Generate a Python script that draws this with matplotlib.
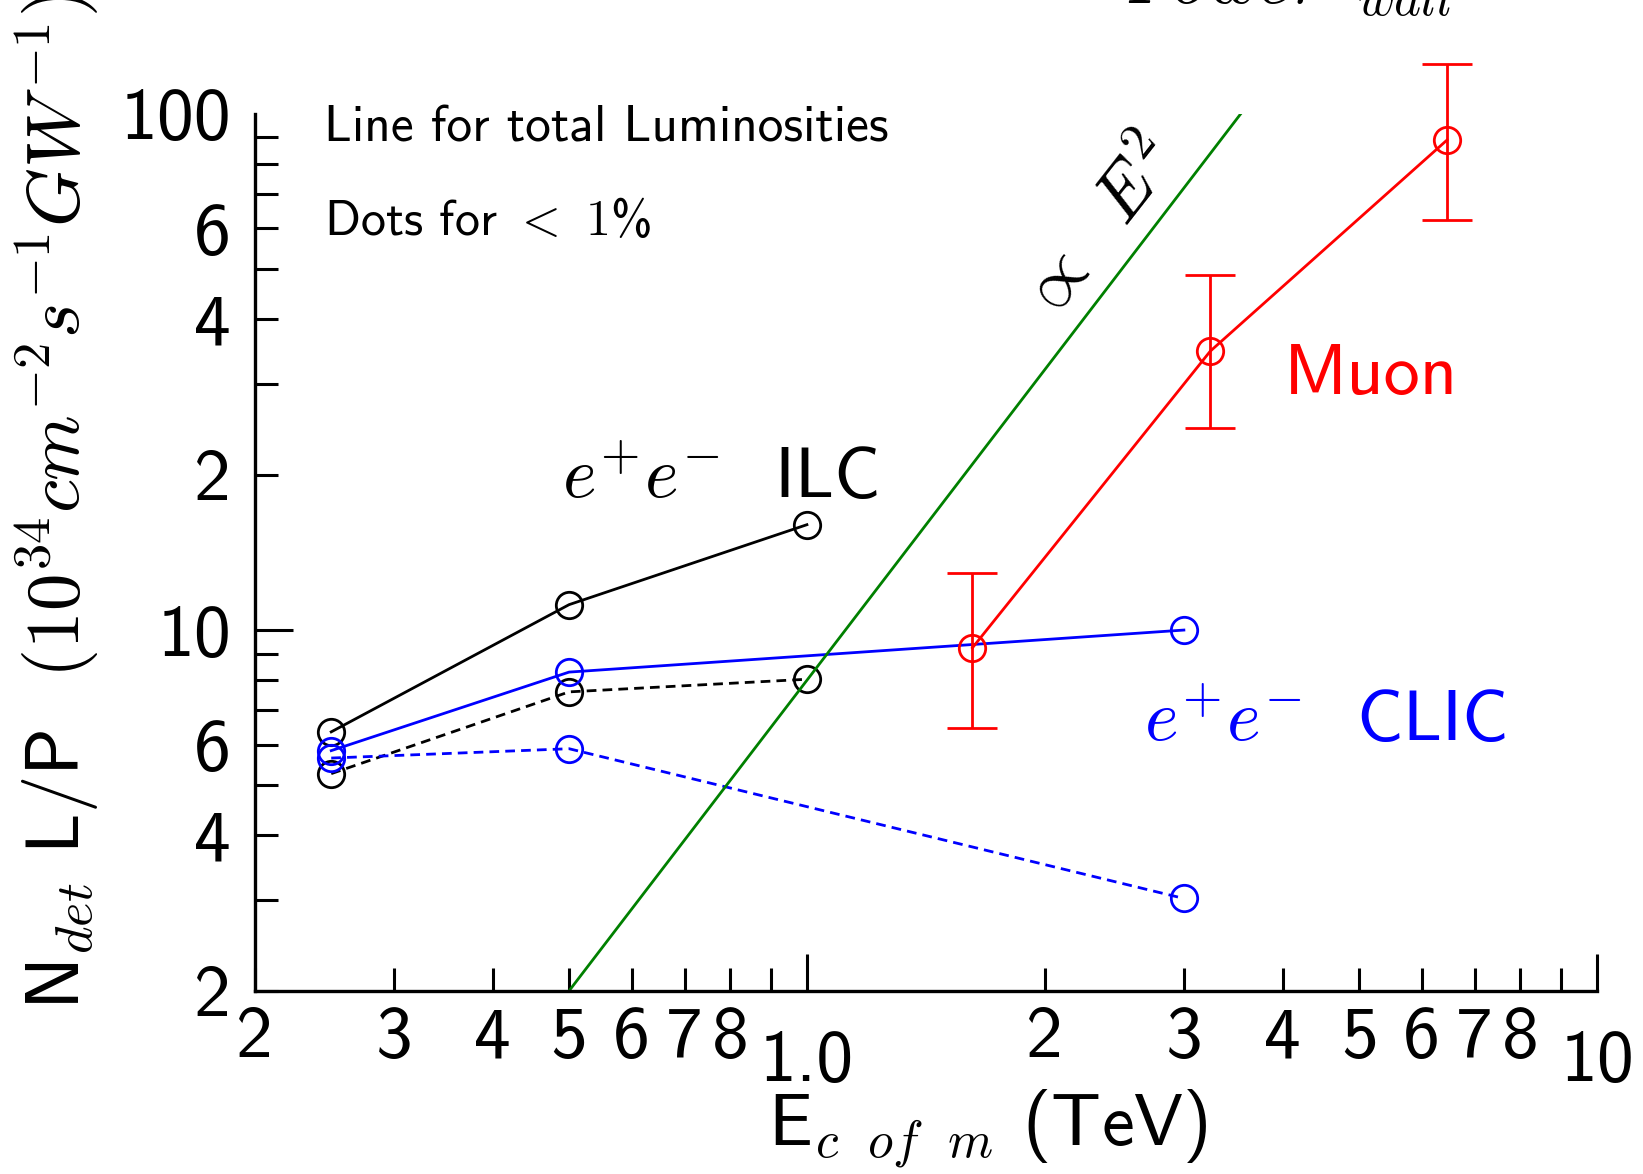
import matplotlib
matplotlib.use("Agg")
import matplotlib.pyplot as plt
from matplotlib.ticker import FixedLocator, FixedFormatter

plt.rcParams['font.family'] = 'cmss10'
plt.rcParams['mathtext.fontset'] = 'cm'
plt.rcParams['axes.formatter.use_mathtext'] = True

### ---------------- donnees ---------------- ###
# e+e- ILC (ligne = luminosite totale, pointilles = < 1%)
ilc_energy = [0.25, 0.5, 1.0]
ilc_total = [6.35, 11.2, 16.0]
ilc_core = [5.27, 7.59, 8.03]

# e+e- CLIC
clic_energy = [0.25, 0.5, 3.0]
clic_total = [5.84, 8.29, 10.0]
clic_core = [5.65, 5.89, 3.02]

# Muon collider avec barres d'erreur
muon_energy = [1.62, 3.24, 6.46]
muon_lp = [9.24, 34.7, 89.0]
muon_low = [6.47, 24.6, 62.2]
muon_high = [12.9, 48.7, 125.0]

# droite de reference ~ E^2
e2_energy = [0.5, 3.54]
e2_lp = [2.0, 100.0]

# graduations
x_major = [1.0, 10.0]
x_major_labels = ['1.0', '10']
x_minor = [0.2, 0.3, 0.4, 0.5, 0.6, 0.7, 0.8, 0.9, 2, 3, 4, 5, 6, 7, 8, 9]
x_minor_labels = ['2', '3', '4', '5', '6', '7', '8', '', '2', '3', '4', '5', '6', '7', '8', '']
y_major = [10, 100]
y_major_labels = ['10', '100']
y_minor = [2, 3, 4, 5, 6, 7, 8, 9, 20, 30, 40, 50, 60, 70, 80, 90]
y_minor_labels = ['2', '', '4', '', '6', '', '', '', '2', '', '4', '', '6', '', '', '']


fig = plt.figure(figsize=(16.43, 11.74), dpi=100)
ax = fig.add_axes([0.155, 0.156, 0.817, 0.747])

ax.set_xscale('log')
ax.set_yscale('log')
ax.set_xlim(0.2, 10)
ax.set_ylim(2, 100)

lw = 2.0
mk = dict(marker='o', ms=19, mfc='none', mew=lw)
dash = (0, (3.5, 2.2))
ax.plot(ilc_energy, ilc_total, color='k', lw=lw, **mk)
ax.plot(ilc_energy, ilc_core, color='k', lw=lw, ls=dash, **mk)
ax.plot(clic_energy, clic_total, color='#0000ff', lw=lw, **mk)
ax.plot(clic_energy, clic_core, color='#0000ff', lw=lw, ls=dash, **mk)

err = [[y - lo for y, lo in zip(muon_lp, muon_low)],
       [hi - y for y, hi in zip(muon_lp, muon_high)]]
ax.errorbar(muon_energy, muon_lp, yerr=err, color='#ff0000', lw=lw,
            capsize=18, capthick=lw, elinewidth=lw, clip_on=False, **mk)

ax.plot(e2_energy, e2_lp, color='#008000', lw=lw)

# axes
for s in ['top', 'right']:
    ax.spines[s].set_visible(False)
for s in ['left', 'bottom']:
    ax.spines[s].set_linewidth(2.4)

ax.xaxis.set_major_locator(FixedLocator(x_major))
ax.xaxis.set_major_formatter(FixedFormatter(x_major_labels))
ax.xaxis.set_minor_locator(FixedLocator(x_minor))
ax.xaxis.set_minor_formatter(FixedFormatter(x_minor_labels))
ax.yaxis.set_major_locator(FixedLocator(y_major))
ax.yaxis.set_major_formatter(FixedFormatter(y_major_labels))
ax.yaxis.set_minor_locator(FixedLocator(y_minor))
ax.yaxis.set_minor_formatter(FixedFormatter(y_minor_labels))

ax.tick_params(which='both', direction='in', top=False, right=False,
               width=2.2, labelsize=53)
ax.tick_params(which='major', length=27)
ax.tick_params(which='minor', length=16.5)
ax.tick_params(axis='x', which='minor', pad=11)
ax.tick_params(axis='x', which='major', pad=28)
ax.tick_params(axis='y', which='both', pad=17)
# pas de trait au sommet (100)
ax.yaxis.get_major_ticks()[1].tick1line.set_visible(False)

ax.set_xlabel(r'E$_{c\ \ of\ \ m}$ (TeV)', fontsize=53)
ax.xaxis.set_label_coords(0.546, -0.158)
ax.xaxis.label.set_va('center')
ax.set_ylabel(r'N$_{det}$ L/P  $(10^{34}cm^{-2}s^{-1}GW^{-1})$', fontsize=54)
ax.yaxis.set_label_coords(-0.147, 0.558)
ax.yaxis.label.set_va('center')

# annotations
ax.text(0.052, 0.983, 'Line for total Luminosities', transform=ax.transAxes,
        fontsize=37, va='center', ha='left')
ax.text(0.052, 0.876, r'Dots for $<$ $1$%', transform=ax.transAxes,
        fontsize=36, va='center', ha='left')
ax.text(0.49, 19.5, r'$e^{+}e^{-}$  ILC', fontsize=52, color='k', va='center', ha='left')
ax.text(2.67, 6.6, r'$e^{+}e^{-}$  CLIC', fontsize=52, color='#0000ff', va='center', ha='left')
ax.text(4.01, 31.0, 'Muon', fontsize=52, color='#ff0000', va='center', ha='left')
ax.text(2.35, 59.5, r'$\propto\ \ E^2$', fontsize=52, rotation=52, va='center', ha='center')
# titre coupe en haut de l'image
fig.text(0.685, 0.9975, r'$Power$', fontsize=52, va='baseline', ha='left')
fig.text(0.826, 0.9875, r'$wall$', fontsize=37, va='baseline', ha='left')

fig.savefig('out.png', dpi=100)
